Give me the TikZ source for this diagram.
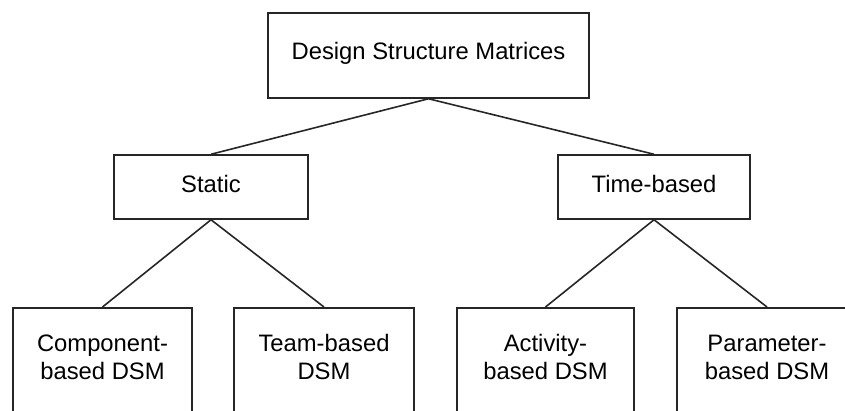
\documentclass[tikz,border=0pt]{standalone}
\usepackage{fontspec}
\setmainfont{Liberation Sans}
\begin{document}
\begin{tikzpicture}[x=1pt,y=-1pt,
  every node/.style={font=\fontsize{23.8}{28}\selectfont},
  box/.style={draw=black!85,line width=1.5pt,rectangle,inner sep=0pt},
  label text/.style={align=center,inner sep=0pt},
  link/.style={draw=black!85,line width=1.6pt}]
\useasboundingbox (0,0) rectangle (845,410);
\clip (0,0) rectangle (845,410);

% root
\node[box,minimum width=321pt,minimum height=85pt] (dsm) at (428.5,55.5) {};
\node[label text] (dsm-t) at (428.5,53) {Design Structure Matrices};

% second level
\node[box,minimum width=194pt,minimum height=64pt] (static) at (211,187) {};
\node[label text] (static-t) at (211,184) {Static};
\node[box,minimum width=192pt,minimum height=64pt] (time) at (654,187) {};
\node[label text] (time-t) at (654,184) {Time-based};

% leaves (open towards the bottom edge)
\node[box,minimum width=179pt,minimum height=160pt,anchor=north] (comp) at (102.5,307) {};
\node[box,minimum width=180pt,minimum height=160pt,anchor=north] (team) at (324,307) {};
\node[box,minimum width=177pt,minimum height=160pt,anchor=north] (act) at (545.5,307) {};
\node[box,minimum width=180pt,minimum height=160pt,anchor=north] (param) at (767,307) {};

\node[label text] (comp-t) at (102.5,357) {Component-\\based DSM};
\node[label text] (team-t) at (324,357) {Team-based\\DSM};
\node[label text] (act-t) at (545.5,357) {Activity-\\based DSM};
\node[label text] (param-t) at (767,357) {Parameter-\\based DSM};

% tree links
\draw[link] (dsm.south) -- (static.north);
\draw[link] (dsm.south) -- (time.north);
\draw[link] (static.south) -- (comp.north);
\draw[link] (static.south) -- (team.north);
\draw[link] (time.south) -- (act.north);
\draw[link] (time.south) -- (param.north);
\end{tikzpicture}
\end{document}
